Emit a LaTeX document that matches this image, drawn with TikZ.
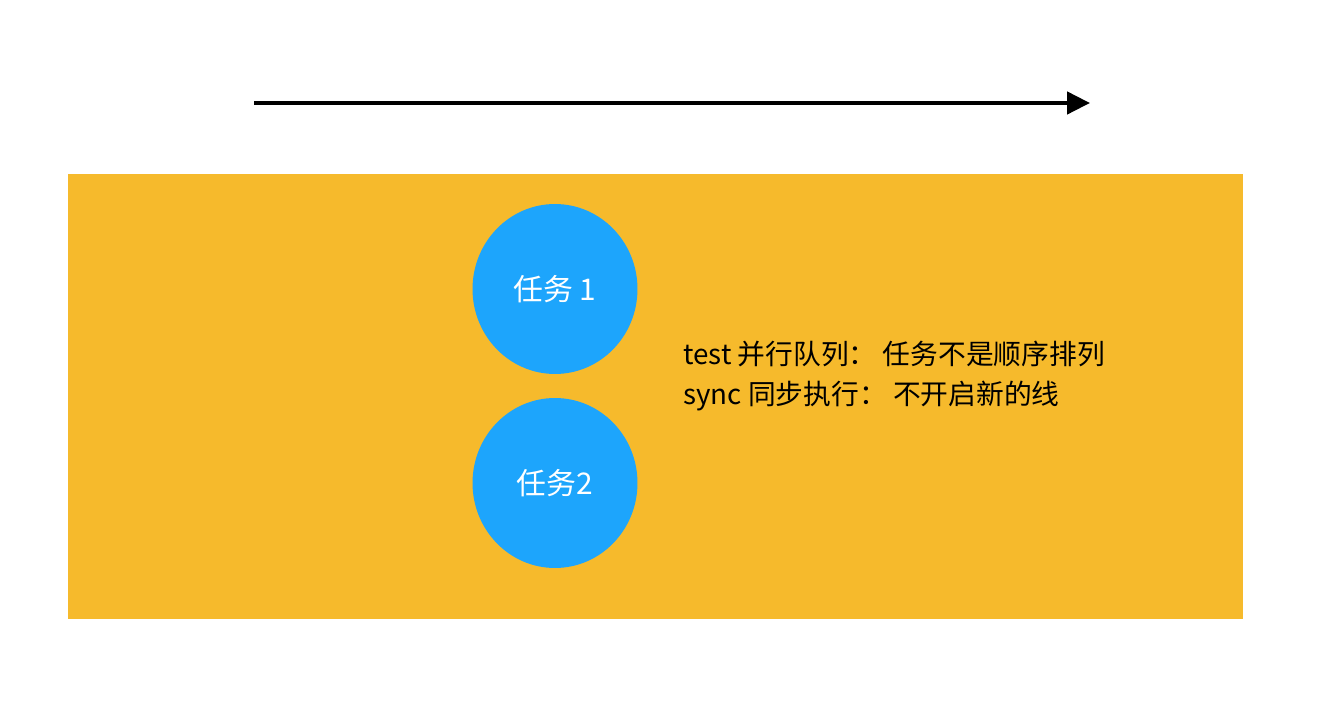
\documentclass[tikz,border=0pt]{standalone}
\usepackage{fontspec}
\setmainfont{Noto Sans CJK SC}
\usetikzlibrary{positioning,arrows.meta,shapes.geometric}
\definecolor{queueorange}{RGB}{246,186,44}
\definecolor{taskblue}{RGB}{29,165,252}

\begin{document}
\begin{tikzpicture}[x=0.02cm,y=-0.02cm,
    task/.style={ellipse, fill=taskblue, text=white, inner sep=0pt,
        minimum width=3.3cm, minimum height=3.4cm, font=\fontsize{17}{20}\selectfont},
    note/.style={anchor=base west, inner sep=0pt, font=\fontsize{15.8}{19}\selectfont}]
 \useasboundingbox (0,0) rectangle (1342,712);
 \coordinate (start) at (254,103);
 \coordinate (stop) at (1090,103);

    % draw time axis
    \draw[line width=2.4pt,-{Triangle[length=13pt,width=12.5pt]}] (start) -- (stop);

    % draw queue
    \fill[queueorange] (68,174) rectangle (1243,619);

    % draw tasks
    \node[task] (task1) at (555,289) {任务 1};
    \node[task] (task2) at (555,483) {任务2};

    % draw notes
    \node[note] (testline) at (683,365) {test 并行队列： 任务不是顺序排列};
    \node[note] (syncline) at (683,405) {sync 同步执行： 不开启新的线};
\end{tikzpicture}
\end{document}
